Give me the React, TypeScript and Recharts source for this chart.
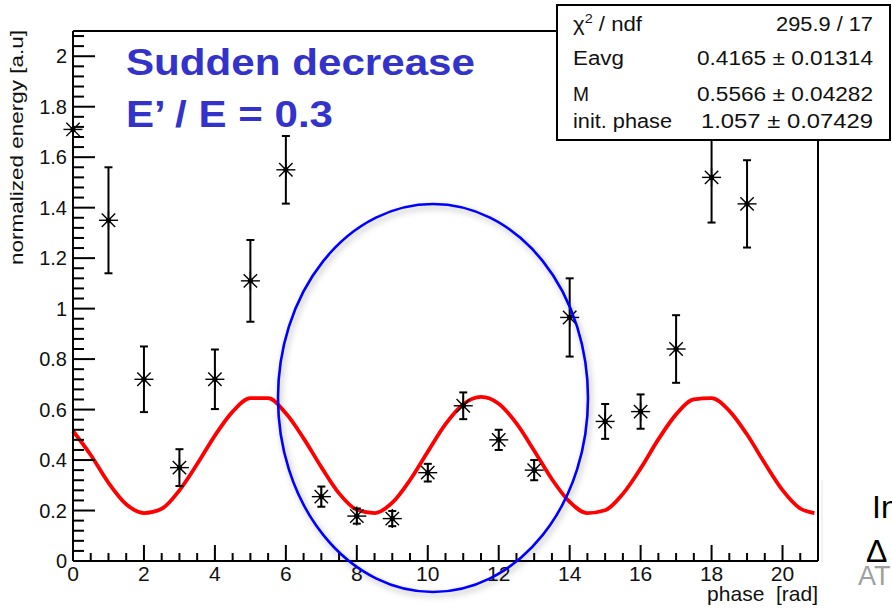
import React from 'react';
import { ComposedChart, Line, Scatter, ErrorBar, XAxis, YAxis, ReferenceLine } from 'recharts';

// ---- data ----
const phaseRad = [0, 1, 2, 3, 4, 5, 6, 7, 8, 9, 10, 11, 12, 13, 14, 15, 16, 17, 18, 19];
const energyValues = [1.71, 1.35, 0.72, 0.37, 0.72, 1.11, 1.55, 0.255, 0.178, 0.168, 0.35, 0.615, 0.48, 0.36, 0.965, 0.553, 0.592, 0.84, 1.52, 1.415];
const energyErrors = [0, 0.21, 0.13, 0.073, 0.118, 0.162, 0.134, 0.04, 0.03, 0.03, 0.035, 0.053, 0.04, 0.04, 0.155, 0.069, 0.068, 0.134, 0.179, 0.173];

const fitPhase = [0, 0.5, 1, 1.5, 2, 2.5, 3, 3.5, 4, 4.5, 5, 5.5, 6, 6.5, 7, 7.5, 8, 8.5, 9, 9.5, 10, 10.5, 11, 11.5, 12, 12.5, 13, 13.5, 14, 14.5, 15, 15.5, 16, 16.5, 17, 17.5, 18, 18.5, 19, 19.5, 20, 20.5, 20.9];
const fitEnergy = [0.515, 0.42, 0.31, 0.225, 0.19, 0.207, 0.28, 0.384, 0.497, 0.592, 0.645, 0.645, 0.585, 0.486, 0.372, 0.268, 0.203, 0.19, 0.231, 0.321, 0.433, 0.542, 0.621, 0.65, 0.623, 0.545, 0.437, 0.324, 0.234, 0.19, 0.201, 0.266, 0.367, 0.482, 0.581, 0.64, 0.645, 0.595, 0.501, 0.387, 0.281, 0.208, 0.19];

const xMajorTicks = [0, 2, 4, 6, 8, 10, 12, 14, 16, 18, 20];
const xTickLabels = ['0', '2', '4', '6', '8', '10', '12', '14', '16', '18', '20'];
const yMajorTicks = [0, 0.2, 0.4, 0.6, 0.8, 1, 1.2, 1.4, 1.6, 1.8, 2];
const yTickLabels = ['0', '0.2', '0.4', '0.6', '0.8', '1', '1.2', '1.4', '1.6', '1.8', '2'];

const statsNames = ['Eavg', 'M', 'init. phase'];
const statsValues = ['295.9 / 17', '0.4165 \u00b1 0.01314', '0.5566 \u00b1 0.04282', '1.057 \u00b1 0.07429'];

const points = phaseRad.map((x, i) => ({ x, y: energyValues[i], err: energyErrors[i] }));
const fit = fitPhase.map((x, i) => ({ x, fit: fitEnergy[i] }));

// minor tick grids (layout only)
const xAllTicks = Array.from({ length: 43 }, (_, i) => i / 2);
const yAllTicks = Array.from({ length: 53 }, (_, i) => (i * 4) / 100);

const FONT = '"Liberation Sans", Arial, Helvetica, sans-serif';
const LABEL = '#111';

const YTick = (props: any) => {
  const { x, y, payload } = props;
  const v = payload.value;
  const k = yMajorTicks.findIndex((m) => Math.abs(m - v) < 1e-6);
  const major = k >= 0;
  return (
    <g>
      <line x1={x} x2={x + (major ? 22 : 11)} y1={y} y2={y} stroke="#000" strokeWidth={2} />
      {major && (
        <text x={x - 6} y={y} dy="0.36em" textAnchor="end" fontFamily={FONT} fontSize={20} fill={LABEL}>
          {yTickLabels[k]}
        </text>
      )}
    </g>
  );
};

const XTick = (props: any) => {
  const { x, y, payload } = props;
  const v = payload.value;
  const k = xMajorTicks.findIndex((m) => Math.abs(m - v) < 1e-6);
  const major = k >= 0;
  return (
    <g>
      <line x1={x} x2={x} y1={y} y2={y - (major ? 16 : 8)} stroke="#000" strokeWidth={2} />
      {major && (
        <text x={x} y={y + 20} textAnchor="middle" fontFamily={FONT} fontSize={21} fill={LABEL}>
          {xTickLabels[k]}
        </text>
      )}
    </g>
  );
};

const Asterisk = (props: any) => {
  const { cx, cy } = props;
  if (cx == null || cy == null) return <g />;
  const r = 9.5;
  const d = 6.7;
  return (
    <g stroke="#000" strokeWidth={1.4}>
      <line x1={cx - r} x2={cx + r} y1={cy} y2={cy} />
      <line x1={cx} x2={cx} y1={cy - r} y2={cy + r} />
      <line x1={cx - d} x2={cx + d} y1={cy - d} y2={cy + d} />
      <line x1={cx - d} x2={cx + d} y1={cy + d} y2={cy - d} />
      <circle cx={cx} cy={cy} r={2.6} fill="#000" stroke="none" />
    </g>
  );
};

export default function App() {
  return (
    <div style={{ position: 'absolute', left: 0, top: 0, width: 892, height: 609, background: '#fff', overflow: 'hidden' }}>
      <ComposedChart width={892} height={609} margin={{ top: 31, right: 74, bottom: 0, left: 0 }}>
        <XAxis
          type="number"
          dataKey="x"
          domain={[0, 21]}
          ticks={xAllTicks}
          interval={0}
          height={48}
          tickSize={0}
          tickMargin={0}
          tickLine={false}
          tick={<XTick />}
          axisLine={{ stroke: '#000', strokeWidth: 2 }}
        />
        <YAxis
          type="number"
          domain={[0, 2.1]}
          ticks={yAllTicks}
          interval={0}
          width={73}
          tickSize={0}
          tickMargin={0}
          tickLine={false}
          tick={<YTick />}
          axisLine={{ stroke: '#000', strokeWidth: 2 }}
        />
        <ReferenceLine y={2.1} stroke="#000" strokeWidth={2} />
        <ReferenceLine x={21} stroke="#000" strokeWidth={2} />
        <Line
          data={fit}
          dataKey="fit"
          type="monotone"
          stroke="#ff0000"
          strokeWidth={3.8}
          dot={false}
          isAnimationActive={false}
        />
        <Scatter data={points} dataKey="y" shape={<Asterisk />} isAnimationActive={false}>
          <ErrorBar dataKey="err" direction="y" width={4} stroke="#000" strokeWidth={2} />
        </Scatter>
      </ComposedChart>

      <svg width={892} height={609} style={{ position: 'absolute', left: 0, top: 0, pointerEvents: 'none' }}>
        <defs>
          <filter id="shadow" x="-20%" y="-20%" width="140%" height="140%">
            <feDropShadow dx="2" dy="3" stdDeviation="3" floodColor="#000" floodOpacity="0.3" />
          </filter>
        </defs>

        {/* annotation title */}
        <text x={126} y={75} fontFamily={FONT} fontWeight="bold" fontSize={37} fill="#3333cc" textLength={349} lengthAdjust="spacingAndGlyphs">
          Sudden decrease
        </text>
        <text x={126} y={127} fontFamily={FONT} fontWeight="bold" fontSize={37} fill="#3333cc" textLength={207} lengthAdjust="spacingAndGlyphs">
          E’ / E = 0.3
        </text>

        {/* highlight ellipse */}
        <ellipse cx={433} cy={398} rx={155} ry={194} fill="none" stroke="#0000ff" strokeWidth={2.6} filter="url(#shadow)" />

        {/* stats box */}
        <rect x={557} y={5} width={333} height={135} fill="#fff" stroke="#000" strokeWidth={2} />
        <text x={573} y={31} fontFamily={FONT} fontSize={20} fill={LABEL} textLength={69} lengthAdjust="spacingAndGlyphs">
          χ<tspan dy={-8} fontSize={13}>2</tspan><tspan dy={8}> / ndf</tspan>
        </text>
        {statsNames.map((n, i) => (
          <text key={n} x={573} y={[65, 101, 128][i]} fontFamily={FONT} fontSize={20} fill={LABEL} textLength={[51, 16, 99][i]} lengthAdjust="spacingAndGlyphs">
            {n}
          </text>
        ))}
        {statsValues.map((v, i) => (
          <text key={v} x={873} y={[31, 65, 101, 128][i]} textAnchor="end" fontFamily={FONT} fontSize={20} fill={LABEL} textLength={[97, 176, 176, 172][i]} lengthAdjust="spacingAndGlyphs">
            {v}
          </text>
        ))}

        {/* axis titles */}
        <text x={818} y={601} textAnchor="end" fontFamily={FONT} fontSize={21} fill={LABEL} style={{ whiteSpace: 'pre' }}>
          {'phase  [rad]'}
        </text>
        <text
          transform="translate(23,30) rotate(-90)"
          textAnchor="end"
          fontFamily={FONT}
          fontSize={18}
          fill={LABEL}
          textLength={235}
          lengthAdjust="spacingAndGlyphs"
        >
          normalized energy [a.u]
        </text>

        {/* slide remnants on the right */}
        <line x1={822} x2={822} y1={480} y2={562} stroke="#e4e4e4" strokeWidth={1} />
        <text x={872} y={518} fontFamily={FONT} fontSize={32} fill="#000">In</text>
        <text x={866} y={562} fontFamily={FONT} fontSize={32} fill="#000">Δ</text>
        <text x={858} y={585} fontFamily={FONT} fontSize={27} fill="#a0a0a0">AT</text>
      </svg>
    </div>
  );
}
